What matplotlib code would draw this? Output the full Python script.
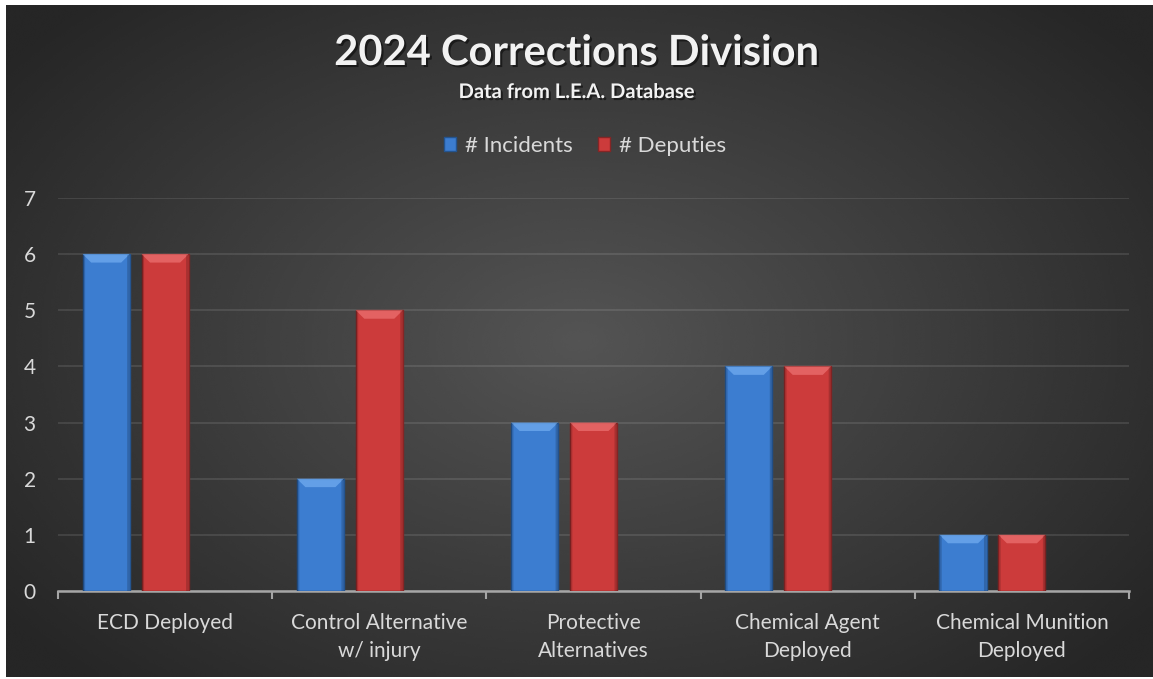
import matplotlib.pyplot as plt
import matplotlib.patheffects as pe
from matplotlib.patches import Polygon
import numpy as np

categories = ["ECD Deployed", "Control Alternative\nw/ injury", "Protective\nAlternatives",
              "Chemical Agent\nDeployed", "Chemical Munition\nDeployed"]
incidents = [6, 2, 3, 4, 1]
deputies = [6, 5, 3, 4, 1]
series_names = ["# Incidents", "# Deputies"]

plt.rcParams['font.family'] = ['Lato', 'DejaVu Sans']

W, H = 1153, 679
fig = plt.figure(figsize=(W / 100, H / 100), dpi=100)
fig.patch.set_facecolor('white')

#
# radial background
#
bg = fig.add_axes([6 / W, 2 / H, 1 - 6 / W, 1 - 7 / H])
yy, xx = np.mgrid[-1:1:300j, -1:1:500j]
r = np.clip(np.sqrt(xx ** 2 + (yy * 0.9) ** 2) / 1.25, 0, 1)
bg.imshow(0.33 - 0.18 * r, cmap='gray', vmin=0, vmax=1, aspect='auto',
          extent=[0, 1, 0, 1], interpolation='bicubic')
bg.set_axis_off()

ax = fig.add_axes([58 / W, 1 - 591 / H, (1129 - 58) / W, (591 - 198) / H])
ax.patch.set_alpha(0)

x = np.arange(len(categories))
bw = 0.22
off = 0.275
colors = ['#3c7dd0', '#cc3b3b']
tops = ['#6aa6ec', '#e86a6a']
edges = ['#24548f', '#862525']

bars = []
for i, (vals, c, tc, ec) in enumerate(zip([incidents, deputies], colors, tops, edges)):
    b = ax.bar(x - off + i * off, vals, bw, color=c, edgecolor=ec, linewidth=1.0,
               label=series_names[i], zorder=3)
    bars.append(b)
    for p in b:
        x0, w_, h_ = p.get_x(), p.get_width(), p.get_height()
        bh = 0.15
        ins = 0.04
        ax.add_patch(Polygon([[x0, h_], [x0 + w_, h_], [x0 + w_ - ins, h_ - bh], [x0 + ins, h_ - bh]],
                             closed=True, facecolor=tc, edgecolor='none', alpha=0.85, zorder=4))
        # side shading
        ax.add_patch(Polygon([[x0 + w_ - 0.012, 0], [x0 + w_, 0], [x0 + w_, h_], [x0 + w_ - 0.012, h_ - 0.02]],
                             closed=True, facecolor='black', edgecolor='none', alpha=0.18, zorder=4))
        ax.add_patch(Polygon([[x0, 0], [x0 + 0.012, 0], [x0 + 0.012, h_ - 0.02], [x0, h_]],
                             closed=True, facecolor='black', edgecolor='none', alpha=0.12, zorder=4))

ax.set_xlim(-0.5, len(categories) - 0.5)
ax.set_ylim(0, 7)
ax.set_yticks(range(0, 8))
ax.yaxis.grid(True, color='#ffffff', alpha=0.12, linewidth=1.2, zorder=0)
ax.set_axisbelow(True)

ax.set_xticks(x)
ax.set_xticklabels(categories, fontsize=15, color='#d9d9d9', linespacing=1.5)
ax.set_xticks(np.arange(-0.5, len(categories)), minor=True)
ax.tick_params(axis='x', which='major', length=0, pad=16)
ax.tick_params(axis='x', which='minor', length=6, width=1.5, color='#a6a6a6', direction='out')
ax.tick_params(axis='y', length=0, pad=16, labelsize=15, labelcolor='#d9d9d9')

for s in ['top', 'right', 'left']:
    ax.spines[s].set_visible(False)
ax.spines['bottom'].set_color('#a6a6a6')
ax.spines['bottom'].set_linewidth(1.8)

shadow = [pe.withSimplePatchShadow(offset=(1.5, -1.5), shadow_rgbFace='black', alpha=0.5)]
fig.text(0.5, 1 - 53 / H, "2024 Corrections Division", ha='center', va='center',
         fontsize=30, fontweight='bold', color='#f2f2f2', path_effects=shadow)
fig.text(0.5, 1 - 92 / H, "Data from L.E.A. Database", ha='center', va='center',
         fontsize=14.5, fontweight='bold', color='#f2f2f2', path_effects=shadow)

fig.legend(handles=bars, labels=series_names, loc='center', bbox_to_anchor=(585 / W, 1 - 146 / H),
           ncol=2, frameon=False, fontsize=16, labelcolor='#d9d9d9', handlelength=0.55,
           handleheight=0.6, handletextpad=0.4, columnspacing=1.1)

fig.savefig('out.png', dpi=100, facecolor=fig.get_facecolor())
